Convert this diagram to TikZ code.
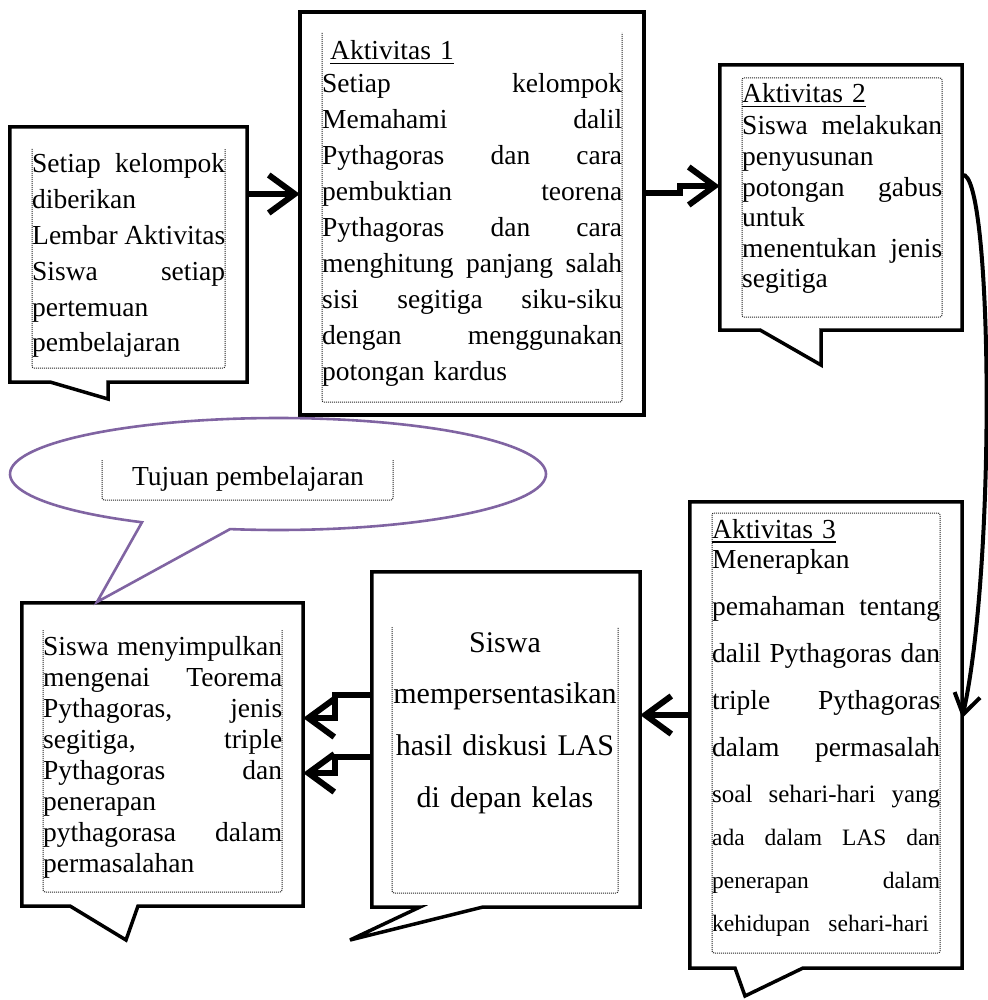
\documentclass[tikz,border=0pt]{standalone}
\usepackage{fontspec}
\setmainfont{Liberation Serif}
\usetikzlibrary{arrows.meta,fit}
\definecolor{calloutpurple}{HTML}{8064A2}
\newcommand\J[2]{{\spaceskip=0pt\xspaceskip=0pt\makebox[#1][s]{#2}}}
\newcommand\ULine[1]{\setbox0=\hbox{#1}\rlap{\rule[-4.5pt]{\wd0}{1.6pt}}\box0}
\begin{document}
\begin{tikzpicture}[x=1pt,y=-1pt,
  frame/.style={inner sep=0pt, draw=none},
  callout/.style={draw=black, line width=3.5pt, fill=white, line join=miter},
  pcall/.style={draw=calloutpurple, line width=2.6pt, fill=white, line join=miter},
  dotbox/.style={draw=black!85, line width=1pt, dash pattern=on 1pt off 1pt, rounded corners=2pt},
  txt/.style={anchor=base west, inner sep=0pt},
  arr/.style={line width=6pt, line join=miter, -{Straight Barb[length=26pt,width=38pt]}},
  arrc/.style={line width=4pt, -{Straight Barb[length=20pt,width=26pt]}}
]
\useasboundingbox[fill=white] (0,0) rectangle (987,1000);

% ---------- frames (named) ----------
\node[frame, fit={(10,127) (247,382)}] (A) {};
\node[frame, fit={(300,12) (644,415)}] (B) {};
\node[frame, fit={(720,65) (962,330)}] (C) {};
\node[frame, fit={(690,502) (962,968)}] (D) {};
\node[frame, fit={(372,572) (640,907)}] (E) {};
\node[frame, fit={(22,603) (303,906)}] (F) {};

% ---------- callout outlines ----------
\draw[callout] (A.north west) -- (A.north east) -- (A.south east) -- (108,382) -- (108,399) -- (50,382) -- (A.south west) -- cycle;
\draw[callout] (B.north west) rectangle (B.south east);
\draw[callout] (C.north west) -- (C.north east) -- (C.south east) -- (821,330) -- (821,365) -- (760,330) -- (C.south west) -- cycle;
\draw[callout] (D.north west) -- (D.north east) -- (D.south east) -- (803,968) -- (745,996) -- (735,968) -- (D.south west) -- cycle;
\draw[callout] (E.north west) -- (E.north east) -- (E.south east) -- (483,907) -- (350,940) -- (420,907) -- (E.south west) -- cycle;
\draw[callout] (F.north west) -- (F.north east) -- (F.south east) -- (138,906) -- (126,940) -- (70,906) -- (F.south west) -- cycle;

% ---------- purple ellipse callout ----------
\draw[pcall] plot[domain=120.5:460.3, samples=140, variable=\t] ({278+268*cos(\t)},{474+56*sin(\t)}) -- (97,602) -- cycle;

% ---------- dotted inner frames ----------
\draw[dotbox] (32,149) -- (32,368) -- (225,368) -- (225,149);
\draw[dotbox] (322,33) -- (322,402) -- (622,402) -- (622,33);
\draw[dotbox] (742,78) rectangle (942,317);
\draw[dotbox] (712,513) rectangle (940,953);
\draw[dotbox] (392,627) -- (392,893) -- (618,893) -- (618,627);
\draw[dotbox] (43,630) -- (43,892) -- (282,892) -- (282,630);
\draw[dotbox] (102,460) -- (102,500) -- (393,500) -- (393,460);

% ---------- texts ----------
\node[txt, text width=193pt, font=\fontsize{27.5}{35.8}\selectfont] (At) at (32,173)
 {\J{193pt}{Setiap kelompok}\\ diberikan\\ \J{193pt}{Lembar Aktivitas}\\ \J{193pt}{Siswa setiap}\\ pertemuan\\ pembelajaran};

\node[txt, text width=300pt, font=\fontsize{27.5}{36}\selectfont] (Bt) at (322,60)
 {\hspace*{8pt}\ULine{Aktivitas 1}\\[-3pt] \J{300pt}{Setiap kelompok}\\ \J{300pt}{Memahami dalil}\\ \J{300pt}{Pythagoras dan cara}\\ \J{300pt}{pembuktian teorena}\\ \J{300pt}{Pythagoras dan cara}\\ \J{300pt}{menghitung panjang salah}\\ \J{300pt}{sisi segitiga siku-siku}\\ \J{300pt}{dengan menggunakan}\\ potongan kardus};

\node[txt, text width=200pt, font=\fontsize{27.5}{30.6}\selectfont] (Ct) at (742,103)
 {\ULine{Aktivitas 2}\\[1.4pt] \J{200pt}{Siswa melakukan}\\ penyusunan\\ \J{200pt}{potongan gabus}\\ untuk\\ \J{200pt}{menentukan jenis}\\ segitiga};

\node[txt, text width=228pt, font=\fontsize{27.5}{47}\selectfont] (Dt) at (712,538)
 {\ULine{Aktivitas 3}\\[-17pt] Menerapkan\\ \J{228pt}{pemahaman tentang}\\ \J{228pt}{dalil Pythagoras dan}\\ \J{228pt}{triple Pythagoras}\\ \J{228pt}{dalam permasalah}\\[-1pt]
  {\fontsize{25}{46}\selectfont\J{228pt}{soal sehari-hari yang}}\\[-4pt]
  {\fontsize{23.5}{43}\selectfont\J{228pt}{ada dalam LAS dan}}\\[-4pt]
  {\fontsize{23.5}{43}\selectfont\J{228pt}{penerapan dalam}}\\[-4pt]
  {\fontsize{23.5}{43}\selectfont kehidupan\ \ sehari-hari}};

\node[anchor=base, inner sep=0pt, text width=226pt, align=center, font=\fontsize{30}{51.7}\selectfont] (Et) at (505,652)
 {Siswa\\ mempersentasikan\\ hasil diskusi LAS\\ di depan kelas};

\node[txt, text width=239pt, font=\fontsize{27.5}{31}\selectfont] (Ft) at (43,655)
 {\J{239pt}{Siswa menyimpulkan}\\ \J{239pt}{mengenai Teorema}\\ \J{239pt}{Pythagoras, jenis}\\ \J{239pt}{segitiga, triple}\\ \J{239pt}{Pythagoras dan}\\ penerapan\\ \J{239pt}{pythagorasa dalam}\\ permasalahan};

\node[anchor=base, inner sep=0pt, font=\fontsize{27.5}{30}\selectfont] (Tuj) at (248,485) {Tujuan pembelajaran};

% ---------- connectors ----------
\draw[arr] (A.east |- 0,194) -- (B.west |- 0,194);
\draw[arr] (B.east |- 0,193) -- (680,193) -- (680,186) -- (C.west |- 0,186);
\draw[arrc] (C.east |- 0,175) .. controls (992,168) and (997,560) .. (D.east |- 0,718);
\draw[arr] (D.west |- 0,715) -- (E.east |- 0,715);
\draw[arr] (E.west |- 0,695) -- (335,695) -- (335,718) -- (F.east |- 0,718);
\draw[arr] (E.west |- 0,757) -- (335,757) -- (335,773) -- (F.east |- 0,773);
\end{tikzpicture}
\end{document}
